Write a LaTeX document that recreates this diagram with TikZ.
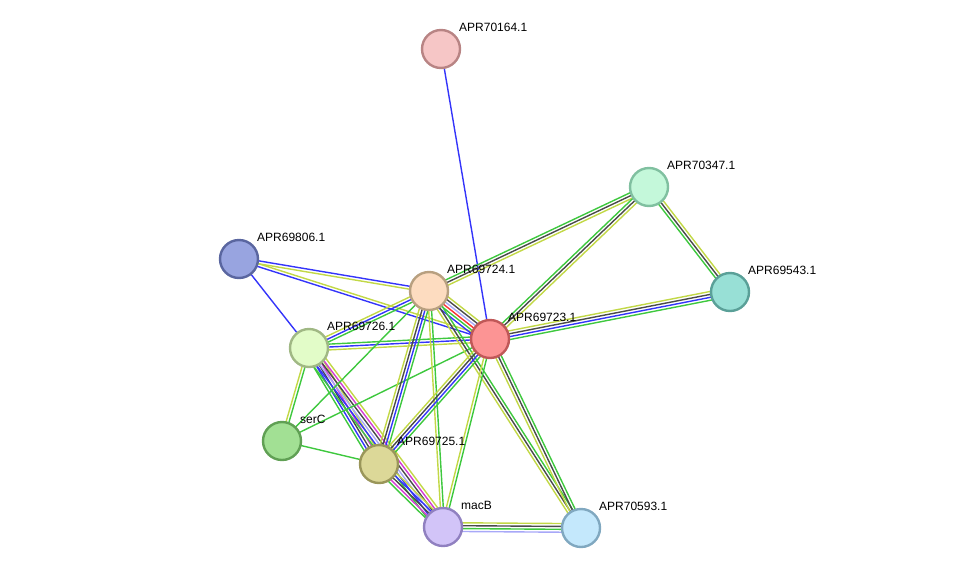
\documentclass[tikz,border=0pt]{standalone}
\usepackage{fontspec}
\setmainfont{Liberation Sans}
\usetikzlibrary{calc,backgrounds}
\definecolor{eGreen}{HTML}{3EC83E}
\definecolor{eDark}{HTML}{4A4A4A}
\definecolor{eYellow}{HTML}{C2D846}
\definecolor{eBlue}{HTML}{3434FA}
\definecolor{eRed}{HTML}{F83434}
\definecolor{eMag}{HTML}{D43CD4}
\definecolor{eLav}{HTML}{A8A8F8}
\tikzset{
  prot/.style={circle, minimum size=38pt, inner sep=0pt, line width=2.4pt},
  lbl/.style={anchor=west, inner sep=0pt, font=\fontsize{12}{14}\selectfont},
  eline/.style={line width=1.4pt}
}
\newcommand{\medge}[3]{%
  \foreach \cc [count=\ii] in {#3} {\xdef\nlines{\ii}}%
  \foreach \cc [count=\ii] in {#3} {%
    \pgfmathsetmacro\off{(\ii-(\nlines+1)/2)*2.9}%
    \draw[eline, draw=\cc] ($(#1.center)!\off pt!90:(#2.center)$) -- ($(#2.center)!\off pt!-90:(#1.center)$);
  }%
}
\begin{document}
\begin{tikzpicture}[x=1pt,y=-1pt]
\useasboundingbox (0,0) rectangle (976,573);
% nodes
\node[prot, fill={rgb,255:red,246;green,198;blue,198}, draw={rgb,255:red,184;green,132;blue,132}] (p70164) at (441,49) {};
\node[prot, fill={rgb,255:red,196;green,248;blue,218}, draw={rgb,255:red,128;green,192;blue,160}] (p70347) at (649,187) {};
\node[prot, fill={rgb,255:red,152;green,224;blue,214}, draw={rgb,255:red,90;green,160;blue,152}] (p69543) at (730,292) {};
\node[prot, fill={rgb,255:red,152;green,164;blue,224}, draw={rgb,255:red,90;green,102;blue,160}] (p69806) at (239,259) {};
\node[prot, fill={rgb,255:red,253;green,220;blue,192}, draw={rgb,255:red,184;green,160;blue,128}] (p69724) at (429,291) {};
\node[prot, fill={rgb,255:red,252;green,148;blue,148}, draw={rgb,255:red,192;green,88;blue,88}] (p69723) at (490,339) {};
\node[prot, fill={rgb,255:red,226;green,252;blue,200}, draw={rgb,255:red,160;green,184;blue,132}] (p69726) at (309,348) {};
\node[prot, fill={rgb,255:red,162;green,224;blue,148}, draw={rgb,255:red,96;green,160;blue,84}] (pserC) at (282,441) {};
\node[prot, fill={rgb,255:red,220;green,216;blue,152}, draw={rgb,255:red,154;green,150;blue,90}] (p69725) at (379,464) {};
\node[prot, fill={rgb,255:red,210;green,196;blue,248}, draw={rgb,255:red,144;green,128;blue,192}] (pmacB) at (443,527) {};
\node[prot, fill={rgb,255:red,196;green,232;blue,252}, draw={rgb,255:red,128;green,168;blue,192}] (p70593) at (581,528) {};
% edges
\begin{pgfonlayer}{background}
\medge{p70164}{p69723}{eBlue}
\medge{p70347}{p69724}{eGreen,eDark,eYellow}
\medge{p70347}{p69723}{eGreen,eDark,eYellow}
\medge{p70347}{p69543}{eGreen,eDark,eYellow}
\medge{p69543}{p69723}{eYellow,eDark,eBlue,eGreen}
\medge{p69806}{p69724}{eYellow,eBlue}
\medge{p69806}{p69723}{eBlue,eYellow}
\medge{p69806}{p69726}{eBlue}
\medge{p69724}{p69723}{eBlue,eGreen,eRed,eLav,eDark,eYellow}
\medge{p69724}{p69726}{eYellow,eBlue,eGreen}
\medge{p69726}{p69723}{eYellow,eBlue,eGreen}
\medge{p69726}{pserC}{eYellow,eGreen}
\medge{p69726}{p69725}{eGreen,eBlue,eDark,eMag,eYellow}
\medge{p69726}{pmacB}{eGreen,eBlue,eLav,eDark,eMag,eYellow}
\medge{pserC}{p69725}{eGreen}
\medge{pserC}{p69724}{eGreen}
\medge{pserC}{p69723}{eGreen}
\medge{p69724}{p69725}{eYellow,eDark,eBlue,eGreen}
\medge{p69724}{pmacB}{eYellow,eGreen}
\medge{p69724}{p70593}{eYellow,eDark,eGreen}
\medge{p69723}{p69725}{eYellow,eDark,eBlue,eGreen}
\medge{p69723}{pmacB}{eYellow,eGreen}
\medge{p69723}{p70593}{eYellow,eDark,eGreen}
\medge{p69725}{pmacB}{eGreen,eMag,eDark,eBlue,eYellow}
\medge{pmacB}{p70593}{eLav,eGreen,eDark,eYellow}
\end{pgfonlayer}
% labels
\node[lbl] (t70164) at ($(p70164)+(18,-22)$) {APR70164.1};
\node[lbl] (t70347) at ($(p70347)+(18,-22)$) {APR70347.1};
\node[lbl] (t69543) at ($(p69543)+(18,-22)$) {APR69543.1};
\node[lbl] (t69806) at ($(p69806)+(18,-22)$) {APR69806.1};
\node[lbl] (t69724) at ($(p69724)+(18,-22)$) {APR69724.1};
\node[lbl] (t69723) at ($(p69723)+(18,-22)$) {APR69723.1};
\node[lbl] (t69726) at ($(p69726)+(18,-22)$) {APR69726.1};
\node[lbl] (tserC) at ($(pserC)+(18,-22)$) {serC};
\node[lbl] (t69725) at ($(p69725)+(18,-23)$) {APR69725.1};
\node[lbl] (tmacB) at ($(pmacB)+(18,-22)$) {macB};
\node[lbl] (t70593) at ($(p70593)+(18,-22)$) {APR70593.1};
\end{tikzpicture}
\end{document}
